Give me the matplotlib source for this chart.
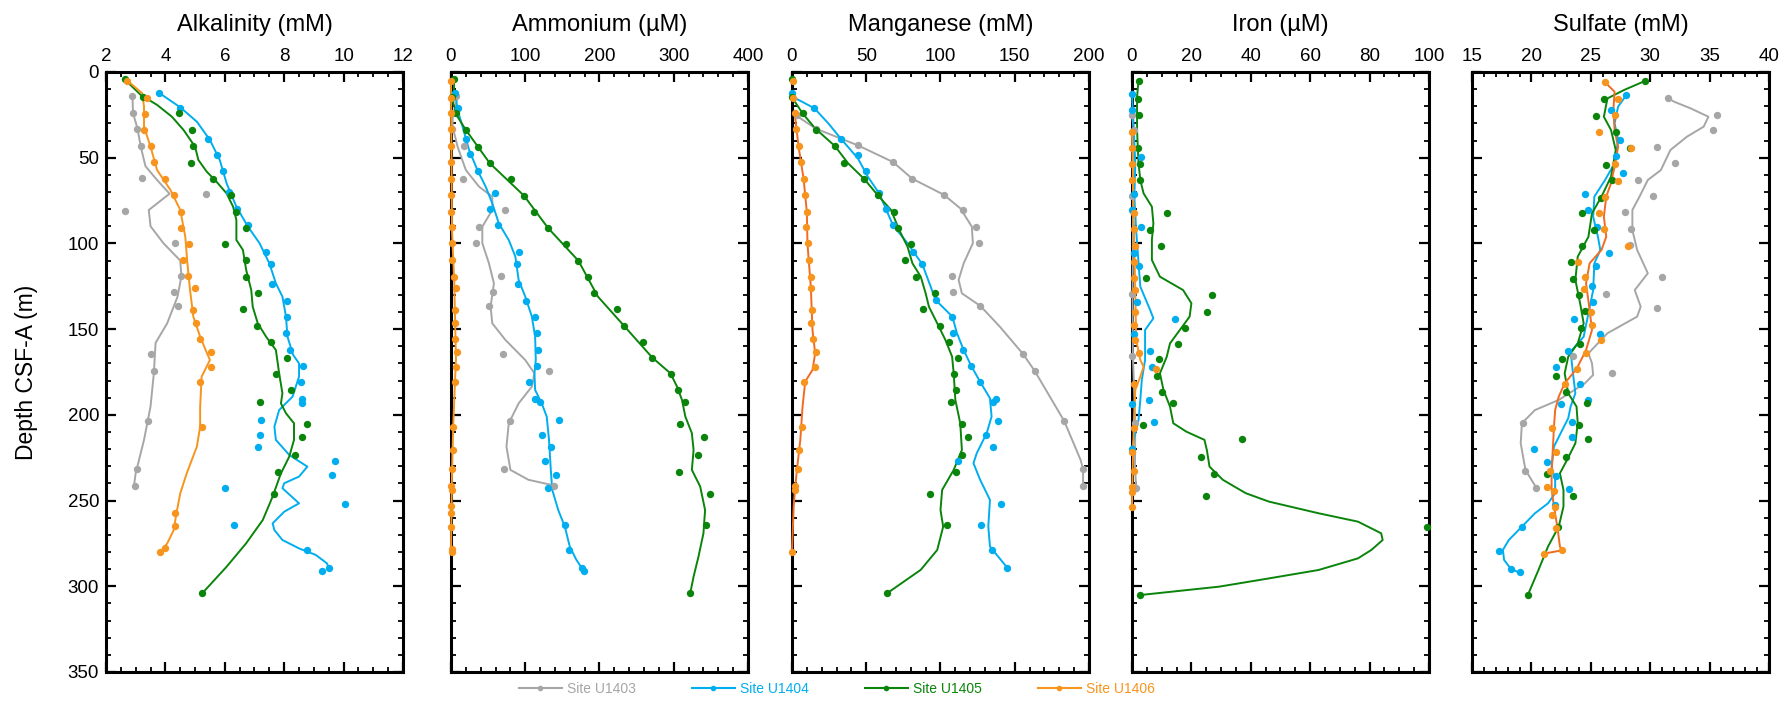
import numpy as np
import matplotlib
matplotlib.use("Agg")
import matplotlib.pyplot as plt
from matplotlib.lines import Line2D
from matplotlib.ticker import MultipleLocator

plt.rcParams["font.family"] = ["Liberation Sans", "DejaVu Sans"]

# ---- data: (depth m, value) pairs ----
sites = ["Site U1403", "Site U1404", "Site U1405", "Site U1406"]
colors = ["#A6A6A6", "#00AEEF", "#0A840A", "#F7941D"]

# Alkalinity (mM)
alk_pts_1403 = [(14,2.89),(24,2.91),(33,3.06),(43,3.18),(62,3.2),(71,5.37),(81,2.64),(100,4.34),(119,4.54),(128.5,4.28),(136.5,4.43),(164.5,3.52),(174.6,3.61),(203.6,3.43),(231.8,3.04),(241.5,2.96)]
alk_fit_1403 = [(14,2.89),(24,2.91),(33,3.06),(43.6,3.17),(55,3.33),(63,3.72),(71,4.14),(80.5,3.44),(90,3.5),(100,3.94),(110,4.5),(119,4.54),(131,4.41),(146.6,4.06),(158,3.67),(176,3.61),(195,3.5),(214.6,3.28),(234,3.0),(241.5,2.94)]
alk_pts_1404 = [(12.1,3.78),(21,4.48),(38.9,5.44),(48.2,5.74),(57.9,5.94),(70,6.14),(79.7,6.41),(89.4,6.78),(104.8,7.39),(112.2,7.56),(123.7,7.59),(133.6,8.08),(142.7,8.09),(152.4,8.07),(162.2,8.19),(171.5,8.63),(181,8.56),(190.6,8.59),(193,8.59),(203.2,7.22),(211.9,7.17),(218.9,7.11),(226.7,9.7),(234.9,9.61),(242.5,6.02),(251.8,10.06),(264.4,6.32),(278.6,8.76),(289.3,9.5),(290.8,9.28)]
alk_fit_1404 = [(12.1,3.78),(20.6,4.5),(29,5.06),(39.7,5.5),(51.3,5.83),(64.9,6.06),(78.6,6.39),(90.2,6.78),(99.9,7.17),(111.6,7.5),(123.3,7.72),(131,7.94),(142.7,8.06),(154.4,8.11),(165,8.3),(170,8.5),(177.7,8.5),(189.4,8.28),(197.2,7.83),(206.9,7.67),(214.6,7.72),(223.4,8.17),(230.2,8.78),(236,8.5),(239.9,8.0),(242.8,7.94),(251.6,8.5),(256.5,8.0),(263.3,7.61),(267.2,7.67),(273,7.94),(277.9,8.5),(281.7,9.06),(286.6,9.44),(289.5,9.5)]
alk_pts_1405 = [(4.3,2.63),(14.8,3.24),(24.1,4.47),(33.8,4.9),(43.2,4.94),(52.9,4.87),(62.2,5.59),(71.9,6.22),(81.7,6.39),(91,6.73),(100.1,6.0),(109.7,6.7),(119.6,6.72),(129.1,7.13),(138.4,6.61),(148.2,7.08),(157.5,7.57),(166.6,8.08),(176.2,7.72),(185.7,8.22),(192.3,7.18),(205.1,8.76),(213.1,8.61),(223.6,8.37),(233.3,7.78),(246.3,7.64),(304.1,5.24)]
alk_fit_1405 = [(4.3,2.63),(13.4,3.17),(19.2,3.72),(26.1,4.22),(33.8,4.61),(43.6,5.0),(51.3,5.11),(58.1,5.39),(64,5.72),(70.8,6.06),(78.6,6.28),(86.3,6.39),(98,6.39),(103.8,6.61),(115.5,6.72),(127.2,6.89),(136.9,6.94),(146.6,7.11),(154.4,7.39),(162.2,7.72),(175.8,7.83),(187.4,7.94),(193.3,7.89),(199.1,8.06),(204.9,8.33),(214.6,8.33),(224.4,8.17),(234.1,7.89),(247.7,7.61),(261.3,7.28),(274.9,6.72),(288.6,6.06),(304.1,5.24)]
alk_pts_1406 = [(5.1,2.72),(15,3.37),(24.3,3.31),(33.8,3.28),(43.4,3.52),(52.7,3.61),(62.2,3.97),(71.6,4.28),(81.7,4.52),(91,4.53),(100.1,4.81),(109.9,4.6),(119,4.77),(125.8,5.0),(138.8,4.93),(146.6,5.03),(155.7,5.16),(163.1,5.54),(172,5.53),(180.8,5.16),(206.9,5.23),(257.2,4.33),(264.9,4.32),(277.6,3.97),(279.9,3.83)]
alk_fit_1406 = [(5.1,2.72),(12.4,3.22),(20.2,3.28),(31.9,3.28),(43.6,3.5),(57.2,3.72),(68.8,4.17),(80.5,4.5),(96.1,4.67),(111.6,4.74),(127.2,4.83),(142.7,4.94),(154.4,5.17),(162,5.35),(168,5.5),(177.7,5.22),(195.2,5.17),(206.9,5.17),(218.5,5.06),(234,4.72),(245.8,4.5),(257.5,4.37),(267.2,4.28),(275,4.06),(280.2,3.83)]

# Ammonium (uM)
amm_pts_1403 = [(14,7),(24,3),(33,2),(43.2,17.8),(62.2,15.6),(80.7,72.4),(90.4,37.8),(99.6,34.2),(118.8,68),(128.5,56.9),(136.5,51.1),(164.5,70.2),(174.6,132.4),(203.6,79.1),(231.8,72),(241.5,138.2)]
amm_fit_1403 = [(14.4,8.9),(26.1,2.2),(31.9,2.2),(43.6,8.9),(57.2,20),(66.9,37.8),(72.7,55.6),(80.5,55.6),(90.2,42.2),(99.9,42.2),(111.6,51.1),(123.3,57.8),(136.9,53.3),(146.6,55.6),(156.3,73.3),(168,100),(175.8,112.4),(183.5,108.9),(193.3,91.1),(204.9,77.8),(218.5,74.7),(232.1,80),(237.9,104.4),(240.8,134.7)]
amm_pts_1404 = [(12.4,5.8),(21.2,9.8),(38.9,20),(48,25.8),(57.9,36),(70.4,59.1),(79.9,52.4),(89.4,63.6),(104.8,92),(112,88.4),(123.7,90.2),(133.4,101.3),(142.9,112.9),(152.4,116.4),(162.2,117.8),(171.5,115.6),(181,105.3),(190.6,112.9),(192.5,120.4),(203.2,145.3),(211.9,123.1),(218.9,135.1),(226.7,126.2),(234.9,140.9),(242.5,130.2),(264.4,153.3),(278.6,159.1),(289.3,176.4),(290.8,179.6)]
amm_fit_1404 = [(12.4,5.8),(22.2,8.9),(31.9,15.6),(45.5,24.4),(57.2,35.6),(66.9,46.7),(76.6,55.6),(88.3,64.4),(98,77.8),(107.7,86.7),(121.3,91.1),(131,100),(142.7,108.9),(154.4,113.3),(168,114.2),(175.8,112.4),(185.5,113.3),(193.3,122.2),(201,128.9),(214.6,132),(234.1,134.7),(243.8,136.4),(255.5,144.4),(265.2,153.3),(276.9,160),(284.6,168.9),(290.4,177.8)]
amm_pts_1405 = [(4.3,4.4),(14.8,2),(24.1,6.7),(33.8,20),(43.6,36.4),(53.3,52.4),(62.2,81.3),(72.1,98.2),(81.7,111.6),(91,130.7),(100.5,154.7),(110.1,171.6),(119.6,184.4),(129.1,192.9),(138.4,223.6),(148.2,233.3),(157.7,259.1),(166.6,271.1),(176.2,296.4),(185.7,305.8),(192.5,315.6),(205.1,308.4),(213.1,341.3),(223.6,332),(233.3,307.1),(246.3,348.9),(264.4,343.6),(304.1,322.2)]
amm_fit_1405 = [(4.3,4.4),(18.3,3.1),(26.1,8.9),(33.8,20),(53.3,52.4),(72.1,98.2),(91,130.7),(110.1,171.6),(131,197.8),(148.2,233.3),(166.6,271.1),(175.8,295.6),(183.5,304.4),(191.3,311.1),(201,315.6),(210.7,324.4),(220.5,326.7),(232.1,324.4),(241.8,335.6),(255.5,342.2),(269.1,340),(282.7,333.3),(294.4,326.7),(304.1,322.2)]
amm_pts_1406 = [(5.1,0),(15,0),(24.1,0),(33.4,0),(43.4,0),(52.7,0),(62.2,0),(71.9,0),(81.7,0),(90.4,2),(99.9,2),(109.7,1),(119.4,4.4),(125.8,6.7),(138.8,5.3),(146.6,5.8),(155.7,5.3),(163.1,8),(172,6.7),(180.8,5.3),(206.9,3.1),(220.5,3.1),(231.8,1.3),(241.3,0),(243.8,1.3),(253,0),(257.5,0),(265.2,0),(278.4,1.3),(280,1.3)]
amm_fit_1406 = [(5.1,0),(92,1.3),(123,4.4),(168,6.7),(176,5.8),(205,3.1),(234,1.3),(280,0)]

# Manganese (mM)
mn_pts_1403 = [(25,3.5),(33.1,16.2),(42.8,44.4),(52.5,68),(62.2,80.9),(71.6,102.2),(80.7,114.9),(90.6,124.2),(99.9,126.2),(118.8,107.8),(128.5,108.4),(136.5,126.9),(164.5,155.6),(174.6,163.6),(203.6,183.3),(231.8,196),(241.5,196)]
mn_fit_1403 = [(25.7,3.3),(33.1,16.2),(42.8,44.4),(52.5,68),(62.2,80.9),(71.6,102.2),(79.5,113.3),(90.2,121.1),(99.9,121.8),(111.6,115.6),(121.3,112.2),(129.1,114.4),(136.5,126.9),(148.6,140),(164.5,155.6),(174.6,163.6),(203.6,183.3),(226.4,194.4),(231.8,196),(241.5,196)]
mn_pts_1404 = [(12.4,0),(21.2,15.1),(38.9,32.9),(48.2,44.4),(57.9,49.6),(70.4,58.7),(79.9,63.6),(89.4,68),(104.8,81.6),(112.2,87.8),(133,96.7),(142.7,108),(152.4,108.4),(162.2,115.1),(171.5,120.7),(181,126.9),(190.7,137.3),(192.7,135.1),(203.4,138.9),(211.9,130.7),(218.9,135.6),(226.7,112),(251.8,140.7),(264.4,127.3),(278.6,134.4),(289.3,145.1)]
mn_fit_1404 = [(14.4,0),(17.3,6.7),(21.2,15.1),(29.9,24.4),(38.9,32.9),(50.4,44.4),(61.1,51.1),(70.8,58.7),(89.4,68),(99.9,77.8),(112.2,87.8),(133,96.7),(142.7,108),(152.4,111.1),(162,115.5),(171.5,120.7),(181,126.9),(190.3,133.3),(201,134.4),(210.7,131.1),(222.4,124.4),(228.2,122.2),(237.9,126.7),(249.6,133.3),(265.1,132.2),(276.8,133.3),(289.3,145.1)]
mn_pts_1405 = [(4.3,0),(14.8,0),(24.1,7.1),(33.8,16),(43.2,28.9),(52.9,35.1),(62.2,48.4),(71.9,57.8),(81.7,68.4),(91,71.6),(100.1,80.4),(109.7,76.2),(119.6,83.3),(129.1,96.4),(138.4,88),(148.2,100),(157.5,105.6),(166.6,111.8),(176.2,109.3),(185.7,110.2),(192.3,106.9),(205.1,114.4),(213.1,118.7),(223.6,114.4),(233.3,110.7),(246.3,93.1),(264.2,104.4),(304.1,64)]
mn_fit_1405 = [(14.8,0),(24.1,7.1),(32.9,15.6),(43.2,28.9),(53.3,37.8),(62.2,48.4),(71.9,57.8),(80.5,66.7),(92.2,72.2),(101.9,77.8),(111.6,81.1),(119.4,86.7),(129.1,90),(136.9,92.2),(146.6,97.8),(156.3,103.3),(166,107.8),(175.8,108.9),(191.3,110),(204.9,113.3),(220.5,114.4),(232.1,108.9),(243.8,101.1),(255.5,100),(265.2,101.8),(278.8,97.8),(290.4,86.7),(304.1,64)]
mn_pts_1406 = [(5.1,0.5),(15,1),(24.1,1.8),(33.4,2.7),(43.4,4.4),(52.7,6.2),(62.2,7.8),(71.9,8.9),(81.7,10),(90.4,9.3),(99.9,10.7),(109.7,11.6),(119.4,12.7),(125.8,12.7),(138.8,13.3),(146.6,12.9),(155.7,14.4),(163.1,16),(172,15.6),(180.8,8.2),(206.9,6.7),(220.5,4.9),(231.8,3.8),(241.3,2.2),(243.8,2.2),(280,0)]
mn_fit_1406 = [(24.1,1.8),(43.4,4.4),(62.2,7.8),(81.7,10),(99.9,10.4),(125.8,12.7),(150.5,13.8),(164.1,15.6),(173.8,13.8),(180.6,8.9),(195.2,7.1),(214.6,5.6),(232.1,3.3),(241.8,2.2),(253.5,1.1),(280,0)]

# Iron (uM)
fe_pts_1403 = [(25.1,0),(33.8,0.6),(72.1,0),(129.7,0),(165.7,0),(204.5,1.1),(242.6,1.4)]
fe_fit_1403 = [(25.1,0),(33.8,0.6),(72,0.4),(130,0.2),(166,0.3),(204.5,1.1),(230,1.0),(242.6,1.4)]
fe_pts_1404 = [(13,0),(22.2,0),(49.4,3),(71.4,0.6),(80.7,0),(90.4,3),(105.8,0.6),(113,2.2),(134.4,1.7),(143.9,14.4),(153,0.6),(162.7,5.9),(172.3,6.9),(191.6,5.6),(193.5,0),(204.2,7.4),(219.9,0)]
fe_fit_1404 = [(13,0),(33.8,0.6),(53.3,1.1),(72.7,0.8),(92.2,1.4),(111.6,2.2),(125.2,2.8),(138.8,6.1),(143.7,7.2),(150.5,4.4),(168,4.4),(179.7,3.3),(191.3,2.8),(203,2.2),(214.6,0.6),(219.6,0)]
fe_pts_1405 = [(5.1,2.2),(15.7,1.9),(25.3,2.2),(44.1,2),(53.9,2.6),(63.2,2.8),(82.4,11.9),(92.2,6.1),(101.5,9.9),(120.4,4.8),(130.1,26.9),(139.8,25.1),(149.1,17.9),(158.5,15.4),(167.6,9.2),(177.3,8.3),(186.9,10),(193.3,13.9),(206.1,3.7),(214.1,37.2),(224.4,23.4),(234.3,27.6),(247.3,24.9),(265.2,99.4),(304.9,2.8)]
fe_fit_1405 = [(5.1,2.2),(14.4,1.7),(33.8,1.7),(53.3,2.2),(63,2.8),(70.8,3.9),(78.6,6.7),(88.3,7.2),(98,6.7),(109.7,6.7),(119.4,9.4),(127.2,17.2),(134.9,20),(142.7,19.4),(150.5,16.1),(158.3,12.8),(166.1,11.7),(175.8,9.4),(185.5,10.6),(195.2,12.8),(204.9,13.9),(209.8,18.3),(214.6,24.4),(220.5,25.2),(230.2,26.1),(237.9,30.6),(245.7,38.3),(250.6,46.1),(257.4,62.8),(262.3,76.1),(269.1,83.9),(273,84.4),(278.8,80.6),(283.7,76.1),(290.5,62.8),(295.4,46.1),(300.2,29.4),(305.1,2.8)]
fe_pts_1406 = [(34.8,0),(44.1,0),(53.9,0),(63.2,0),(82.2,0.6),(91.8,0.6),(101.3,1.1),(110.6,0.6),(120,0.8),(127.2,1.1),(139.8,1.1),(147.6,0.6),(156.3,1.1),(164.1,2.2),(173.3,8.1),(182,0.6),(207.9,0.8),(221.7,0),(232.7,0.6),(241.9,0),(244.8,0),(254,0)]
fe_fit_1406 = [(34.8,0),(80,0.5),(127,1.1),(156,1.4),(168,2.8),(171.9,3.9),(177.7,2.8),(185.5,1.1),(204.9,0.6),(234.1,0.2),(254,0)]

# Sulfate (mM)
so4_pts_1403 = [(15.2,31.5),(25.1,35.6),(33.8,35.3),(43.7,30.6),(53.3,32.1),(62.8,29.0),(72.3,30.2),(81.7,27.9),(91.4,28.4),(100.9,28.3),(119.8,31),(129.5,26.3),(137.5,30.6),(165.7,23.5),(175.4,26.8),(204.5,19.3),(232.7,19.5),(242.4,20.4)]
so4_fit_1403 = [(15.2,31.5),(17.3,32),(21.2,33.4),(26.1,34.9),(31.9,34.5),(37.7,33.1),(45.5,31.7),(57.2,30.9),(63,29.8),(72.7,29.1),(80.5,28.5),(92.2,28.5),(103.8,28.9),(117.4,29.8),(127.2,28.7),(136.9,29.2),(142.7,28.9),(152.4,26.4),(164.1,24.8),(169.9,25.1),(176.7,25.2),(181.6,24.5),(191.3,22.3),(197.2,20.3),(204.9,19.2),(216.6,19.1),(232.1,19.5),(242.4,20.4)]
so4_pts_1404 = [(13.4,28),(22.2,26.7),(39.9,27.5),(49.2,27.1),(58.9,27.7),(71.2,24.5),(80.7,24.8),(90.2,25.5),(105.6,26.5),(113,25.4),(124.6,25.1),(134.4,25.2),(143.9,23.6),(153,25.8),(162.7,23.1),(172.3,22.1),(181.8,24.1),(191.5,24.8),(193.5,22.5),(204.2,23.4),(212.7,23.4),(219.7,20.2),(227.5,21.3),(235.5,22.1),(243.5,23.2),(252.6,22),(265.4,19.2),(279.4,17.3),(290.1,18.3),(291.9,19.0)]
so4_fit_1404 = [(13.4,28),(20.2,27.3),(29.9,27),(39.7,27.3),(53.3,27),(63,26.2),(72.7,25.3),(84.4,25.2),(96.1,25.6),(103.8,25.8),(111.6,25.3),(127.2,25.2),(140.8,24.8),(154.4,24.4),(163.1,23.3),(175.8,23.5),(187.4,23.7),(195.2,23.3),(202,23.1),(208.8,22.6),(218.5,21.9),(230.2,21.7),(237.9,22),(245.7,22),(251.6,21.4),(257.4,20.3),(265.2,19.2),(273,18.1),(278.8,17.6),(284.6,17.7),(290.1,18.3),(291.9,19.0)]
so4_pts_1405 = [(5.1,29.6),(15.9,26.1),(25.5,25.4),(35,27.1),(44.3,28.3),(54.1,26.3),(62.8,26.8),(73.3,25.9),(82.4,24.3),(92.2,25.3),(101.5,24.3),(110.8,23.3),(120.6,23.5),(130.3,24),(139.4,24.5),(149.3,24.2),(158.5,24.1),(167.6,22.6),(177.2,22.1),(186.6,22.9),(193.3,24.7),(206.1,24),(214.1,24.8),(224.4,22.9),(234.3,21.3),(247.3,23.5),(265.2,22.2),(305.1,19.7)]
so4_fit_1405 = [(5.1,29.6),(10.5,27.8),(15.4,26.4),(26.1,26.1),(33.8,26.7),(45.5,27.1),(61.1,26.7),(72.7,25.9),(82.4,25.1),(96.1,24.8),(107.7,23.9),(121.3,23.7),(134.9,24.1),(146.6,24.4),(158.3,23.9),(166.1,23.1),(175.8,22.8),(187.4,23.1),(195.2,23.8),(204.9,23.9),(216.6,23.7),(226.3,23),(234.1,22.4),(243.8,22.7),(253.5,22.7),(265.2,22.3),(276.8,21.4),(290.4,20.6),(305.1,19.7)]
so4_pts_1406 = [(6,26.2),(15.7,27.3),(25.3,27),(34.8,25.7),(44.1,28.4),(53.5,27),(63.4,27.3),(72.7,26.2),(82.4,25.7),(91.6,26.1),(101.3,28.1),(110.6,23.9),(119.8,24.5),(126.6,24.4),(139.8,25),(147.6,25.1),(156.5,25.9),(164.1,24.6),(173.2,23.8),(182,22.8),(207.7,21.7),(221.7,22.1),(232.7,21.6),(241.9,21.3),(244.4,21.9),(254,22),(258.4,21.7),(266.2,22.1),(279,22.6),(280.9,21.1)]
so4_fit_1406 = [(6,26.2),(11.5,27),(22.2,26.9),(33.8,27),(43.6,27.3),(55.2,27),(64.9,26.7),(72.7,26.3),(84.4,26.1),(96.1,26.3),(103.8,25.9),(111.6,24.9),(123.3,24.6),(138.8,24.9),(150.5,25.1),(162.2,24.6),(173.2,23.8),(181.6,22.8),(189.4,22.3),(197.2,22),(206.9,21.9),(220.5,21.8),(234.1,21.7),(243.8,21.7),(253.5,21.9),(266.2,22.2),(276.8,22.4),(279,22.6),(280.9,21.1)]

titles = ["Alkalinity (mM)", "Ammonium (µM)", "Manganese (mM)", "Iron (µM)", "Sulfate (mM)"]
xlims = [(2, 12), (0, 400), (0, 200), (0, 100), (15, 40)]
xmajor = [2, 100, 50, 20, 5]
xminor = [0.5, 20, 10, 5, 1]

panels = [
    [(alk_pts_1403, alk_fit_1403), (alk_pts_1404, alk_fit_1404), (alk_pts_1405, alk_fit_1405), (alk_pts_1406, alk_fit_1406)],
    [(amm_pts_1403, amm_fit_1403), (amm_pts_1404, amm_fit_1404), (amm_pts_1405, amm_fit_1405), (amm_pts_1406, amm_fit_1406)],
    [(mn_pts_1403, mn_fit_1403), (mn_pts_1404, mn_fit_1404), (mn_pts_1405, mn_fit_1405), (mn_pts_1406, mn_fit_1406)],
    [(fe_pts_1403, fe_fit_1403), (fe_pts_1404, fe_fit_1404), (fe_pts_1405, fe_fit_1405), (fe_pts_1406, fe_fit_1406)],
    [(so4_pts_1403, so4_fit_1403), (so4_pts_1404, so4_fit_1404), (so4_pts_1405, so4_fit_1405), (so4_pts_1406, so4_fit_1406)],
]

# ---- figure ----
W, H = 1790, 709
fig = plt.figure(figsize=(W / 100, H / 100), dpi=100)
lefts = [106, 451, 792, 1132, 1472]
ax_w, ax_top, ax_bot = 297, 72, 672

for i, left in enumerate(lefts):
    ax = fig.add_axes([left / W, (H - ax_bot) / H, ax_w / W, (ax_bot - ax_top) / H])
    for k, ((pts, fit), c) in enumerate(zip(panels[i], colors)):
        p = np.array(pts)
        f = np.array(fit)
        lc = "#F26B21" if (k == 3 and i in (2, 4)) else c
        ax.plot(f[:, 1], f[:, 0], color=lc, lw=1.4, zorder=3, clip_on=False)
        ax.plot(p[:, 1], p[:, 0], "o", color=c, ms=5.3, mew=0, zorder=4, clip_on=False)
    ax.set_xlim(*xlims[i])
    ax.set_ylim(350, 0)
    ax.xaxis.set_major_locator(MultipleLocator(xmajor[i]))
    ax.xaxis.set_minor_locator(MultipleLocator(xminor[i]))
    ax.yaxis.set_major_locator(MultipleLocator(50))
    ax.yaxis.set_minor_locator(MultipleLocator(10))
    ax.tick_params(which="both", direction="in", top=True, bottom=True, left=True, right=True,
                   labeltop=True, labelbottom=False, labelleft=(i == 0), labelsize=13.5, pad=5)
    ax.tick_params(which="major", length=7, width=1.6)
    ax.tick_params(which="minor", length=3.5, width=1.3)
    for s in ax.spines.values():
        s.set_linewidth(2.2)
    ax.set_title(titles[i], fontsize=17, pad=12)
    if i == 0:
        ax.set_ylabel("Depth CSF-A (m)", fontsize=16.5, labelpad=21)

handles = [Line2D([], [], color=c, lw=1.5, marker="o", ms=4, mew=0) for c in colors]
fig.legend(handles, sites, loc="center", bbox_to_anchor=(0.4676, 0.028), ncol=4, frameon=False,
           labelcolor="linecolor", fontsize=10, handlelength=3.1, columnspacing=4.0, handletextpad=0.4)

fig.savefig("out.png", dpi=100)
